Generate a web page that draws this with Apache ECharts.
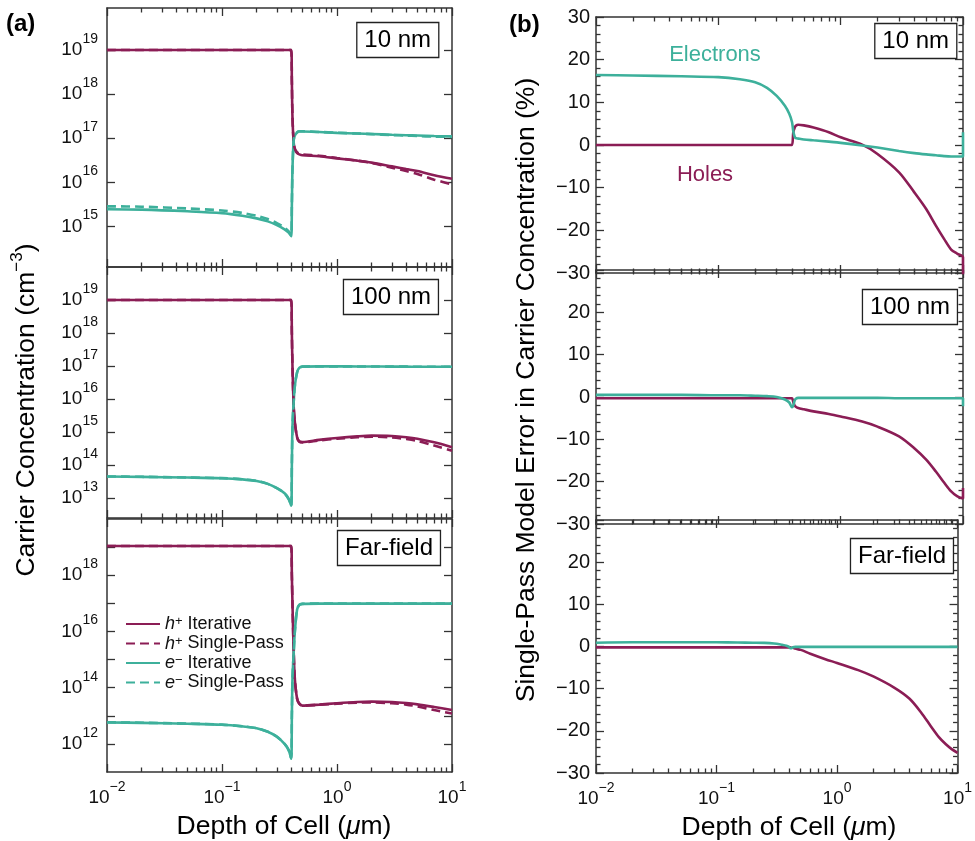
<!DOCTYPE html>
<html><head><meta charset="utf-8">
<script src="https://cdn.jsdelivr.net/npm/echarts@6/dist/echarts.min.js"></script>
<style>html,body{margin:0;padding:0;background:#fff}#c{width:975px;height:841px}</style>
</head><body><div id="c"></div>
<script>
// ---------- DATA (depth in micrometres) ----------
const depthL = [0.01, 0.02, 0.05, 0.1, 0.15, 0.2, 0.25, 0.3, 0.35, 0.38, 0.4, 0.405, 0.41, 0.42, 0.43, 0.45, 0.47, 0.5, 0.7, 1, 1.5, 2, 3, 4, 5, 7, 10];

// (a) 10 nm
const holes10It  = [1e19,1e19,1e19,1e19,1e19,1e19,1e19,1e19,1e19,1e19,1e19, 2e18, 3e17, 8e16, 5.5e16, 4.6e16, 4.3e16, 4.1e16, 3.9e16, 3.5e16, 3.1e16, 2.8e16, 2.3e16, 2.0e16, 1.8e16, 1.45e16, 1.2e16];
const holes10SP  = [1e19,1e19,1e19,1e19,1e19,1e19,1e19,1e19,1e19,1e19,1e19, 2e18, 3.1e17, 8.3e16, 5.8e16, 4.8e16, 4.5e16, 4.3e16, 4.0e16, 3.55e16, 3.1e16, 2.75e16, 2.15e16, 1.8e16, 1.55e16, 1.15e16, 9e15];
const elec10It   = [2.45e15, 2.4e15, 2.2e15, 2.0e15, 1.75e15, 1.52e15, 1.3e15, 1.07e15, 8.6e14, 7.2e14, 6e14, 3e15, 2e16, 9e16, 1.15e17, 1.35e17, 1.42e17, 1.42e17, 1.38e17, 1.32e17, 1.28e17, 1.25e17, 1.2e17, 1.17e17, 1.15e17, 1.12e17, 1.1e17];
const elec10SP   = [2.85e15, 2.8e15, 2.55e15, 2.3e15, 2.02e15, 1.74e15, 1.47e15, 1.19e15, 9.4e14, 7.7e14, 6.3e14, 3.1e15, 2e16, 9e16, 1.16e17, 1.37e17, 1.44e17, 1.44e17, 1.39e17, 1.33e17, 1.28e17, 1.24e17, 1.18e17, 1.15e17, 1.12e17, 1.09e17, 1.07e17];
// (a) 100 nm
const holes100It = [1e19,1e19,1e19,1e19,1e19,1e19,1e19,1e19,1e19,1e19,1e19, 1e18, 1e17, 6e15, 2e15, 7e14, 5.3e14, 5e14, 5.8e14, 6.6e14, 7.4e14, 7.8e14, 7.6e14, 7e14, 6.3e14, 4.9e14, 3.5e14];
const holes100SP = [1e19,1e19,1e19,1e19,1e19,1e19,1e19,1e19,1e19,1e19,1e19, 1e18, 1e17, 5.9e15, 1.95e15, 6.8e14, 5.1e14, 4.85e14, 5.6e14, 6.3e14, 6.95e14, 7.25e14, 6.9e14, 6.15e14, 5.4e14, 3.9e14, 2.7e14];
const elec100It  = [4.5e13, 4.4e13, 4.2e13, 4e13, 3.7e13, 3.3e13, 2.7e13, 2e13, 1.4e13, 9.5e12, 5.9e12, 1e14, 1.5e15, 8e15, 2.5e16, 6.5e16, 8.8e16, 9.6e16, 9.8e16, 9.8e16, 9.7e16, 9.7e16, 9.6e16, 9.6e16, 9.5e16, 9.5e16, 9.5e16];
const elec100SP  = [4.52e13, 4.42e13, 4.22e13, 4.02e13, 3.72e13, 3.31e13, 2.7e13, 2e13, 1.39e13, 9.3e12, 5.75e12, 1e14, 1.5e15, 8e15, 2.5e16, 6.5e16, 8.8e16, 9.6e16, 9.8e16, 9.8e16, 9.7e16, 9.7e16, 9.6e16, 9.6e16, 9.5e16, 9.5e16, 9.5e16];
// (a) Far-field
const holesFFIt  = [1.1e19,1.1e19,1.1e19,1.1e19,1.1e19,1.1e19,1.1e19,1.1e19,1.1e19,1.1e19,1.1e19, 1e18, 1e17, 2e15, 2e14, 4e13, 2.7e13, 2.3e13, 2.5e13, 2.8e13, 3.1e13, 3.2e13, 3.1e13, 2.85e13, 2.55e13, 2.05e13, 1.6e13];
const holesFFSP  = [1.1e19,1.1e19,1.1e19,1.1e19,1.1e19,1.1e19,1.1e19,1.1e19,1.1e19,1.1e19,1.1e19, 1e18, 1e17, 2e15, 2e14, 4e13, 2.7e13, 2.28e13, 2.45e13, 2.7e13, 2.93e13, 2.97e13, 2.8e13, 2.5e13, 2.15e13, 1.6e13, 1.2e13];
const elecFFIt   = [5.8e12, 5.6e12, 5.2e12, 4.8e12, 4.2e12, 3.6e12, 2.7e12, 1.8e12, 1e12, 6e11, 3e11, 1e13, 2e14, 1.7e15, 1e16, 6e16, 8.8e16, 9.6e16, 9.8e16, 9.8e16, 9.8e16, 9.8e16, 9.8e16, 9.8e16, 9.8e16, 9.8e16, 9.8e16];
const elecFFSP   = [5.85e12, 5.65e12, 5.25e12, 4.85e12, 4.24e12, 3.63e12, 2.72e12, 1.81e12, 1e12, 6e11, 3e11, 1e13, 2e14, 1.7e15, 1e16, 6e16, 8.8e16, 9.6e16, 9.8e16, 9.8e16, 9.8e16, 9.8e16, 9.8e16, 9.8e16, 9.8e16, 9.8e16, 9.8e16];

// (b) single-pass error, %
const depthR = [0.01, 0.02, 0.05, 0.1, 0.15, 0.2, 0.25, 0.3, 0.35, 0.38, 0.4, 0.41, 0.42, 0.43, 0.45, 0.5, 0.6, 0.8, 1, 1.5, 2, 3, 4, 5, 6, 7, 8, 9, 10, 10];
const err10Elec   = [16.4, 16.3, 16.1, 15.9, 15.4, 14.7, 13.4, 11.5, 9.2, 7.3, 5.4, 3.2, 2.0, 1.6, 1.5, 1.3, 1.1, 0.8, 0.5, -0.1, -0.6, -1.4, -1.9, -2.2, -2.4, -2.6, -2.7, -2.7, -2.7, 3.0];
const err10Holes  = [0, 0, 0, 0, 0, 0, 0, 0, 0, 0, 0, 3.0, 4.0, 4.5, 4.75, 4.6, 4.1, 3.0, 1.8, 0.1, -2.1, -6.4, -11.1, -15, -18.9, -22, -24.5, -25.5, -26.3, -35];
const err100Elec  = [0.5, 0.5, 0.5, 0.4, 0.4, 0.3, 0.2, 0.0, -0.6, -1.3, -2.4, -2.0, -0.9, -0.4, -0.2, -0.2, -0.2, -0.2, -0.2, -0.2, -0.2, -0.3, -0.3, -0.3, -0.3, -0.3, -0.3, -0.3, -0.3, -2.2];
const err100Holes = [-0.3, -0.3, -0.3, -0.3, -0.3, -0.3, -0.3, -0.3, -0.3, -0.3, -0.3, -1.2, -2.0, -2.3, -2.6, -2.9, -3.4, -4.0, -4.6, -5.8, -7.0, -9.3, -12.1, -14.8, -17.6, -20.2, -22.3, -23.5, -24.0, -21.5];
const errFFElec   = [0.9, 1.0, 1.0, 1.0, 0.95, 0.9, 0.85, 0.7, 0.4, 0.2, -0.1, -0.4, -0.4, -0.2, -0.1, -0.1, -0.1, -0.1, -0.1, -0.1, -0.1, -0.1, -0.1, -0.1, -0.1, -0.1, -0.1, -0.1, -0.1, -0.1];
const errFFHoles  = [-0.2, -0.2, -0.2, -0.2, -0.2, -0.2, -0.2, -0.2, -0.2, -0.2, -0.2, -0.2, -0.3, -0.3, -0.5, -0.8, -1.7, -3.0, -3.9, -5.6, -7.1, -9.8, -12.4, -15.7, -18.9, -21.5, -23.2, -24.4, -25.2, -25.2];

// tick label exponents
const panelLabels = ['10 nm', '100 nm', 'Far-field'];
const yTicksL = [[15,16,17,18,19], [13,14,15,16,17,18,19], [12,13,14,15,16,17,18,19]];
const yLabelsL = [[15,16,17,18,19], [13,14,15,16,17,18,19], [12,14,16,18]];
const yRangeL = [[1.2e14, 9e19], [2.5e12, 1e20], [1e11, 1e20]];

// ---------- STYLE ----------
const FONT = "'Liberation Sans', Arial, Helvetica, sans-serif";
const MAROON = '#8B1D55', TEAL = '#3DB09B', AXC = '#333', TXT = '#111';

const minorX = [];
[-2, -1, 0].forEach(d => [2,3,4,5,6,7,8,9].forEach(m => minorX.push(d + Math.log10(m))));

const richTick = {
  a: {fontSize: 19, fontFamily: FONT, color: TXT, lineHeight: 36},
  b: {fontSize: 14, fontFamily: FONT, color: TXT, lineHeight: 14, verticalAlign: 'top'}
};
function fmtExp(v) { const n = Math.round(v); return '{a|10}{b|' + (n < 0 ? '\u2212' + (-n) : n) + '}'; }

const grids = [], xAxis = [], yAxis = [], series = [];
const lineAx = {show: true, onZero: false, lineStyle: {color: AXC, width: 1.5}};
const tickSt = {color: AXC, width: 1.3};

function addXDecor(gi, showLabels) {
  ['bottom', 'top'].forEach(pos => {
    xAxis.push({type: 'value', gridIndex: gi, position: pos, min: -2, max: 1, interval: 1,
      axisLine: lineAx, axisTick: {show: true, inside: true, length: 8, lineStyle: tickSt},
      axisLabel: {show: showLabels && pos === 'bottom', margin: 8, formatter: fmtExp, rich: richTick},
      splitLine: {show: false}});
    xAxis.push({type: 'value', gridIndex: gi, position: pos, min: -2, max: 1,
      axisLine: {show: false, onZero: false},
      axisTick: {show: true, inside: true, length: 4.5, customValues: minorX, lineStyle: tickSt},
      axisLabel: {show: false}, splitLine: {show: false}});
  });
}

function mkLine(name, xi, yi, depth, vals, color, dashed) {
  return {type: 'line', name, xAxisIndex: xi, yAxisIndex: yi,
    data: depth.map((d, i) => [d, vals[i]]),
    showSymbol: false, symbol: 'none', smooth: 0.3, silent: true,
    lineStyle: {color, width: 2.6, type: dashed ? [9, 5] : 'solid'},
    itemStyle: {color}, z: dashed ? 3 : 2};
}

// left column panels
const leftGeom = [[8, 259], [267, 251], [519, 253]];
const leftData = [
  [holes10It, holes10SP, elec10It, elec10SP],
  [holes100It, holes100SP, elec100It, elec100SP],
  [holesFFIt, holesFFSP, elecFFIt, elecFFSP]
];
const legendNames = ['h+ Iterative', 'h+ Single-Pass', 'e- Iterative', 'e- Single-Pass'];
leftGeom.forEach((g, p) => {
  const gi = grids.length;
  grids.push({left: 107, top: g[0], width: 345, height: g[1]});
  const xi = xAxis.length;
  xAxis.push({type: 'log', gridIndex: gi, min: 0.01, max: 10, show: false});
  addXDecor(gi, p === 2);
  const yi = yAxis.length;
  const [lo, hi] = yRangeL[p];
  yAxis.push({type: 'log', gridIndex: gi, min: lo, max: hi, show: false});
  ['left', 'right'].forEach(pos => {
    yAxis.push({type: 'value', gridIndex: gi, position: pos, min: Math.log10(lo), max: Math.log10(hi),
      axisLine: lineAx,
      axisTick: {show: true, inside: true, length: 8, customValues: yTicksL[p], lineStyle: tickSt},
      axisLabel: {show: pos === 'left', customValues: yLabelsL[p], margin: 9, formatter: fmtExp, rich: richTick},
      splitLine: {show: false}});
  });
  const [hI, hS, eI, eS] = leftData[p];
  series.push(mkLine(legendNames[0], xi, yi, depthL, hI, MAROON, false));
  series.push(mkLine(legendNames[2], xi, yi, depthL, eI, TEAL, false));
  series.push(mkLine(legendNames[1], xi, yi, depthL, hS, MAROON, true));
  series.push(mkLine(legendNames[3], xi, yi, depthL, eS, TEAL, true));
});

// right column panels
const rightGeom = [[17, 256], [270, 254], [520, 253]];
const rightData = [[err10Elec, err10Holes], [err100Elec, err100Holes], [errFFElec, errFFHoles]];
rightGeom.forEach((g, p) => {
  const gi = grids.length;
  grids.push({left: 596, top: g[0], width: 367, height: g[1]});
  const xi = xAxis.length;
  xAxis.push({type: 'log', gridIndex: gi, min: 0.01, max: 10, show: false});
  addXDecor(gi, p === 2);
  const yi = yAxis.length;
  ['left', 'right'].forEach(pos => {
    yAxis.push({type: 'value', gridIndex: gi, position: pos, min: -30, max: 30, interval: 10,
      axisLine: lineAx,
      axisTick: {show: true, inside: true, length: 8, lineStyle: tickSt},
      minorTick: {show: true, splitNumber: 5, length: 4.5, lineStyle: tickSt},
      axisLabel: {show: pos === 'left', showMaxLabel: p === 0, showMinLabel: true, margin: 6,
        fontSize: 20, fontFamily: FONT, color: TXT,
        formatter: v => v < 0 ? '\u2212' + (-v) : String(v)},
      splitLine: {show: false}});
  });
  series.push(mkLine('Holes err', xi, yi, depthR, rightData[p][1], MAROON, false));
  series.push(mkLine('Electrons err', xi, yi, depthR, rightData[p][0], TEAL, false));
});

const boxStyle = {fontSize: 24, fontWeight: 'normal', fontFamily: FONT, color: '#000', lineHeight: 28};
const boxPos = [[536, 22], [536, 279], [534, 530], [18, 23], [17, 289], [21, 538]];
const titles = boxPos.map((b, i) => ({text: panelLabels[i % 3], right: b[0], top: b[1],
  padding: [4, 8, 4, 8], borderColor: '#222', borderWidth: 1.3, backgroundColor: '#fff',
  textStyle: boxStyle}));

const legendRich = {
  i: {fontStyle: 'italic', fontSize: 18, fontFamily: FONT, color: TXT, lineHeight: 18},
  s: {fontSize: 13, fontFamily: FONT, color: TXT, lineHeight: 8, verticalAlign: 'top'},
  t: {fontSize: 18, fontFamily: FONT, color: TXT, lineHeight: 18}
};
const legendFmt = {
  'h+ Iterative': '{i|h}{s|+}{t| Iterative}',
  'h+ Single-Pass': '{i|h}{s|+}{t| Single-Pass}',
  'e- Iterative': '{i|e}{s|\u2212}{t| Iterative}',
  'e- Single-Pass': '{i|e}{s|\u2212}{t| Single-Pass}'
};

const titleFont = 26.5;
const option = {
  animation: false,
  backgroundColor: '#fff',
  grid: grids, xAxis, yAxis, series,
  title: titles,
  legend: {data: legendNames, orient: 'vertical', left: 120, top: 610, itemWidth: 34, itemHeight: 14,
    itemGap: 1.5, selectedMode: false, itemStyle: {opacity: 0},
    textStyle: {fontSize: 18, fontFamily: FONT, color: TXT, rich: legendRich},
    formatter: n => legendFmt[n]},
  graphic: [
    {type: 'text', x: 6, y: 12, style: {text: '(a)', fontSize: 24, fontWeight: 'bold', fontFamily: FONT, fill: '#000'}},
    {type: 'text', x: 509, y: 13, style: {text: '(b)', fontSize: 24, fontWeight: 'bold', fontFamily: FONT, fill: '#000'}},
    {type: 'text', x: 715, y: 55, style: {text: 'Electrons', fontSize: 22, fontFamily: FONT, fill: TEAL, align: 'center', verticalAlign: 'middle'}},
    {type: 'text', x: 705, y: 175, style: {text: 'Holes', fontSize: 22, fontFamily: FONT, fill: MAROON, align: 'center', verticalAlign: 'middle'}},
    {type: 'text', x: 27, y: 410, rotation: Math.PI / 2, style: {
      text: 'Carrier Concentration (cm{s|\u22123})', fontSize: titleFont, fontFamily: FONT, fill: '#000', lineHeight: 36,
      align: 'center', verticalAlign: 'middle',
      rich: {s: {fontSize: 17, fontFamily: FONT, fill: '#000', lineHeight: 16, verticalAlign: 'top'}}}},
    {type: 'text', x: 527, y: 390, rotation: Math.PI / 2, style: {
      text: 'Single-Pass Model Error in Carrier Concentration (%)', fontSize: titleFont, fontFamily: FONT, fill: '#000',
      align: 'center', verticalAlign: 'middle'}},
    {type: 'text', x: 284, y: 827, style: {text: 'Depth of Cell ({i|\u03bc}m)', fontSize: titleFont, fontFamily: FONT, fill: '#000',
      align: 'center', verticalAlign: 'middle', rich: {i: {fontStyle: 'italic', fontSize: titleFont, fontFamily: FONT, fill: '#000'}}}},
    {type: 'text', x: 789, y: 828, style: {text: 'Depth of Cell ({i|\u03bc}m)', fontSize: titleFont, fontFamily: FONT, fill: '#000',
      align: 'center', verticalAlign: 'middle', rich: {i: {fontStyle: 'italic', fontSize: titleFont, fontFamily: FONT, fill: '#000'}}}}
  ]
};
echarts.init(document.getElementById('c'), null, {renderer: 'canvas'}).setOption(option);
</script></body></html>
